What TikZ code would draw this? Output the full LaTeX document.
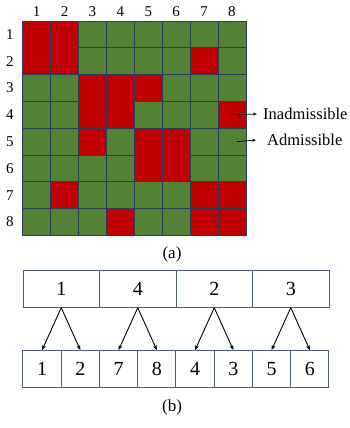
\documentclass[tikz,border=0pt]{standalone}
\usepackage{fontspec}
\setmainfont{Liberation Serif}
\usetikzlibrary{arrows.meta, positioning}
\definecolor{cellR}{RGB}{192,0,0}
\definecolor{cellG}{RGB}{84,130,53}
\definecolor{gridline}{RGB}{44,60,92}
\definecolor{boxline}{RGB}{78,94,122}

\begin{document}
\begin{tikzpicture}[x=1pt, y=-1pt,
      cell/.style={rectangle, draw=gridline, line width=0.8pt, minimum width=27.9pt,
                   minimum height=26.8pt, inner sep=0pt, outer sep=0pt},
      lbl/.style={font=\fontsize{15}{17}\selectfont, inner sep=0pt},
      note/.style={font=\fontsize{16.5}{19}\selectfont, inner sep=0pt, anchor=west},
      subcap/.style={font=\fontsize{17}{20}\selectfont, inner sep=0pt},
      topbox/.style={rectangle, draw=boxline, line width=1pt, minimum width=76.5pt,
                     minimum height=37pt, inner sep=0pt, outer sep=0pt, font=\fontsize{20}{23}\selectfont},
      subbox/.style={topbox, minimum width=38.25pt, minimum height=37.3pt},
      arr/.style={-{Stealth[length=5pt, width=4pt]}, line width=0.9pt},
      thinarr/.style={-{Stealth[length=4pt, width=3pt]}, line width=0.7pt}
    ]
    \useasboundingbox (0,0) rectangle (349,428);

    % admissibility grid
    \foreach \r/\row in {1/{R,R,G,G,G,G,G,G}, 2/{R,R,G,G,G,G,R,G},
                         3/{G,G,R,R,R,G,G,G}, 4/{G,G,R,R,G,G,G,R},
                         5/{G,G,R,G,R,R,G,G}, 6/{G,G,G,G,R,R,G,G},
                         7/{G,R,G,G,G,G,R,R}, 8/{G,G,G,R,G,G,R,R}}
      \foreach \col [count=\c] in \row
        \node[cell, fill=cell\col] (c-\r-\c) at (8.75+27.9*\c, 7.6+26.8*\r) {};

    \foreach \i in {1,...,8} {
      \node[lbl, above=4pt of c-1-\i] (h\i) {\i};
      \node[lbl, left=9pt of c-\i-1] (v\i) {\i};
    }

    \node[note] (inad) at (263,114) {Inadmissible};
    \node[note] (adm) at (267,140) {Admissible};
    \draw[thinarr] ([xshift=5pt]c-4-8.center) -- ([xshift=-6pt]inad.west);
    \draw[thinarr] ([xshift=5pt]c-5-8.center) -- ([xshift=-11pt]adm.west);

    \node[subcap] (capa) at (172,254) {(a)};

    % grouped sequence
    \node[topbox] (p1) at (61.25,289.2) {1};
    \node[topbox, right=0pt of p1] (p2) {4};
    \node[topbox, right=0pt of p2] (p3) {2};
    \node[topbox, right=0pt of p3] (p4) {3};

    \node[subbox] (q1) at (42.1,368.7) {1};
    \node[subbox, right=0pt of q1] (q2) {2};
    \node[subbox, right=0pt of q2] (q3) {7};
    \node[subbox, right=0pt of q3] (q4) {8};
    \node[subbox, right=0pt of q4] (q5) {4};
    \node[subbox, right=0pt of q5] (q6) {3};
    \node[subbox, right=0pt of q6] (q7) {5};
    \node[subbox, right=0pt of q7] (q8) {6};

    \draw[arr] (p1.south) -- (q1.north);
    \draw[arr] (p1.south) -- (q2.north);
    \draw[arr] (p2.south) -- (q3.north);
    \draw[arr] (p2.south) -- (q4.north);
    \draw[arr] (p3.south) -- (q5.north);
    \draw[arr] (p3.south) -- (q6.north);
    \draw[arr] (p4.south) -- (q7.north);
    \draw[arr] (p4.south) -- (q8.north);

    \node[subcap] (capb) at (172,407) {(b)};
  \end{tikzpicture}
\end{document}
